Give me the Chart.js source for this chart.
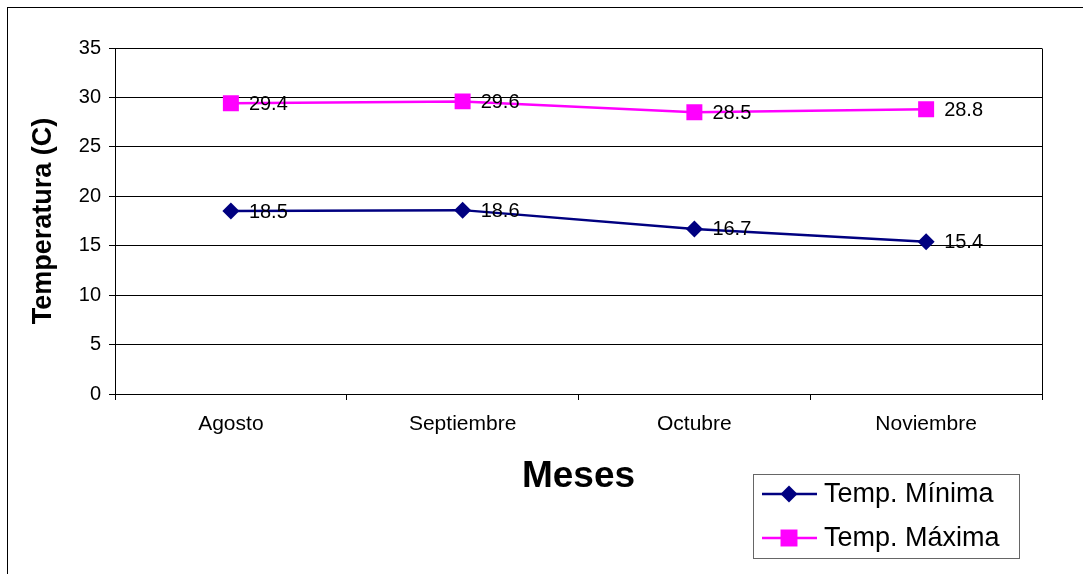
<!DOCTYPE html>
<html>
<head>
<meta charset="utf-8">
<title>Temperatura</title>
<script src="https://cdn.jsdelivr.net/npm/chart.js@4/dist/chart.umd.min.js"></script>
<style>
    html, body { margin: 0; padding: 0; background: #fff; }
    #wrap { width: 1083px; height: 574px; }
</style>
</head>
<body>
<div id="wrap"><canvas id="tempChart" width="1083" height="574"></canvas></div>
<script>
const meses = ['Agosto', 'Septiembre', 'Octubre', 'Noviembre'];
const tempMinima = [18.5, 18.6, 16.7, 15.4];
const tempMaxima = [29.4, 29.6, 28.5, 28.8];
const serieNombres = ['Temp. Mínima', 'Temp. Máxima'];

const FONT = '"Liberation Sans", Arial, sans-serif';

// frame around the plot, outer border, value labels and the boxed legend
const decorPlugin = {
    id: 'decor',
    beforeDraw(chart) {
        const ctx = chart.ctx;
        ctx.save();
        ctx.fillStyle = '#fff';
        ctx.fillRect(0, 0, chart.width, chart.height);
        ctx.strokeStyle = '#000';
        ctx.lineWidth = 1;
        ctx.strokeRect(7.5, 7.5, chart.width + 20, chart.height + 20);
        ctx.restore();
    },
    afterDatasetsDraw(chart) {
        const ctx = chart.ctx;
        const a = chart.chartArea;
        ctx.save();
        ctx.strokeStyle = '#000';
        ctx.lineWidth = 1;
        ctx.beginPath();
        ctx.moveTo(Math.round(a.right) + 0.5, Math.round(a.top) + 0.5);
        ctx.lineTo(Math.round(a.right) + 0.5, Math.round(a.bottom) + 0.5);
        ctx.stroke();

        ctx.font = '20px ' + FONT;
        ctx.fillStyle = '#000';
        ctx.textBaseline = 'middle';
        ctx.textAlign = 'left';
        chart.data.datasets.forEach((ds, i) => {
            const meta = chart.getDatasetMeta(i);
            meta.data.forEach((pt, j) => {
                ctx.fillText(ds.data[j].toFixed(1), pt.x + 18, pt.y + 1);
            });
        });
        ctx.restore();
    },
    afterDraw(chart) {
        const ctx = chart.ctx;
        ctx.save();
        ctx.strokeStyle = '#666';
        ctx.lineWidth = 1;
        ctx.strokeRect(753.5, 474.5, 266, 84);
        ctx.font = '27px ' + FONT;
        ctx.textBaseline = 'middle';
        ctx.textAlign = 'left';
        chart.data.datasets.forEach((ds, i) => {
            const y = 494 + i * 44;
            ctx.strokeStyle = ds.borderColor;
            ctx.lineWidth = 2.5;
            ctx.beginPath();
            ctx.moveTo(762, y);
            ctx.lineTo(817, y);
            ctx.stroke();
            ctx.fillStyle = ds.backgroundColor;
            Chart.helpers.drawPoint(ctx, {
                pointStyle: ds.pointStyle,
                radius: ds.pointStyle === 'rect' ? 12 : 8.5,
                rotation: 0,
                borderWidth: 0
            }, 789, y);
            ctx.fillStyle = '#000';
            ctx.fillText(ds.label, 824, y + 1);
        });
        ctx.restore();
    }
};

new Chart(document.getElementById('tempChart').getContext('2d'), {
    type: 'line',
    data: {
        labels: meses,
        datasets: [{
            label: serieNombres[0],
            data: tempMinima,
            borderColor: '#000080',
            backgroundColor: '#000080',
            borderWidth: 2.5,
            pointStyle: 'rectRot',
            pointRadius: 8.5,
            pointBorderWidth: 0,
            fill: false,
            tension: 0
        },
        {
            label: serieNombres[1],
            data: tempMaxima,
            borderColor: '#ff00ff',
            backgroundColor: '#ff00ff',
            borderWidth: 2.5,
            pointStyle: 'rect',
            pointRadius: 11.3,
            pointBorderWidth: 0,
            fill: false,
            tension: 0
        }]
    },
    options: {
        responsive: false,
        animation: false,
        layout: {
            padding: { left: 8, right: 41, top: 48, bottom: 0 }
        },
        plugins: {
            legend: { display: false },
            tooltip: { enabled: false }
        },
        scales: {
            x: {
                offset: true,
                grid: {
                    offset: true,
                    drawOnChartArea: false,
                    color: '#000',
                    tickLength: 6
                },
                border: { color: '#000', width: 1 },
                ticks: {
                    color: '#000',
                    font: { family: FONT, size: 21 },
                    padding: 12,
                    maxRotation: 0
                },
                title: {
                    display: true,
                    text: 'Meses',
                    color: '#000',
                    font: { family: FONT, size: 37, weight: 'bold' },
                    padding: { top: 0, bottom: 75 }
                },
                afterFit(scale) { scale.height = 180; }
            },
            y: {
                min: 0,
                max: 35,
                ticks: {
                    stepSize: 5,
                    color: '#000',
                    font: { family: FONT, size: 20 },
                    padding: 8
                },
                grid: {
                    color: '#000',
                    tickLength: 6
                },
                border: { color: '#000', width: 1 },
                title: {
                    display: true,
                    text: 'Temperatura (C)',
                    color: '#000',
                    font: { family: FONT, size: 27, weight: 'bold' },
                    padding: { top: 19, bottom: 0 }
                },
                afterFit(scale) { scale.width = 107; }
            }
        }
    },
    plugins: [decorPlugin]
});
</script>
</body>
</html>
